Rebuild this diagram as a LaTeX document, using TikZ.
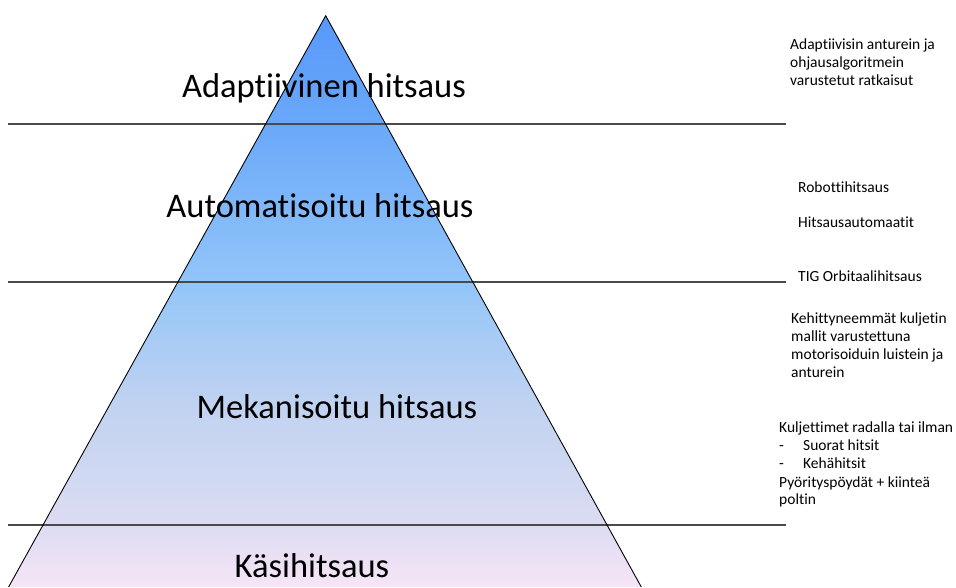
\documentclass[tikz,border=0pt]{standalone}
\usepackage{fontspec}
\setmainfont{Carlito}[Ligatures=NoCommon]
\definecolor{cTop}{HTML}{5898FA}
\definecolor{cA}{HTML}{6AA8F9}
\definecolor{cB}{HTML}{92C5F9}
\definecolor{cC}{HTML}{BFD2F1}
\definecolor{cD}{HTML}{DCDCF2}
\definecolor{cBot}{HTML}{F7E5F6}
\definecolor{lineGray}{HTML}{4A4A4A}
\pgfdeclareverticalshading{pyrshade}{100bp}{color(0bp)=(cBot); color(25bp)=(cBot); color(30.4bp)=(cD); color(41.3bp)=(cC); color(51.7bp)=(cB); color(65.5bp)=(cA); color(75bp)=(cTop); color(100bp)=(cTop)}
\tikzset{
  levelline/.style={draw=lineGray, line width=1.2pt},
  sideline/.style={draw=black, line width=0.9pt},
  bigtext/.style={inner sep=0pt, anchor=base, font=\fontsize{34.5}{38}\selectfont, text=black},
  smalltext/.style={inner sep=0pt, anchor=base west, font=\fontsize{15.5}{18}\selectfont, text=black, align=left},
}
\begin{document}
\begin{tikzpicture}[x=1pt, y=-1pt]
\useasboundingbox (0,0) rectangle (956,587);
\fill[white] (0,0) rectangle (956,587);
\coordinate (apex) at (325.7,15.7);
\coordinate (bl) at (8.6,587);
\coordinate (br) at (641.3,587);
\shade[shading=pyrshade] (apex) -- (br) -- (bl) -- cycle;
\coordinate (l1a) at (8,124); \coordinate (l1b) at (786,124);
\coordinate (l2a) at (8,282); \coordinate (l2b) at (786,282);
\coordinate (l3a) at (8,525); \coordinate (l3b) at (786,525);
\draw[levelline] (l1a) -- (l1b);
\draw[levelline] (l2a) -- (l2b);
\draw[levelline] (l3a) -- (l3b);
\draw[sideline] (bl) -- (apex) -- (br);
% big labels
\node[bigtext] (adap) at (324,97) {Adaptiivinen hitsaus};
\node[bigtext] (auto) at (320,217) {Automatisoitu hitsaus};
\node[bigtext] (meka) at (337,418) {Mekanisoitu hitsaus};
\node[bigtext] (kasi) at (312,577) {Käsihitsaus};
% right notes
\node[smalltext] (n1a) at (790,49) {Adaptiivisin anturein ja};
\node[smalltext] (n1b) at (790,67) {ohjausalgoritmein};
\node[smalltext] (n1c) at (790,85) {varustetut ratkaisut};
\node[smalltext] (n2) at (798,192) {Robottihitsaus};
\node[smalltext] (n3) at (798,227) {Hitsausautomaatit};
\node[smalltext] (n4) at (798,281) {TIG Orbitaalihitsaus};
\node[smalltext] (n5a) at (791,323) {Kehittyneemmät kuljetin};
\node[smalltext] (n5b) at (791,341) {mallit varustettuna};
\node[smalltext] (n5c) at (791,359) {motorisoiduin luistein ja};
\node[smalltext] (n5d) at (791,377) {anturein};
\node[smalltext] (n6a) at (779,432) {Kuljettimet radalla tai ilman};
\node[smalltext] (n6b) at (779,450) {-};
\node[smalltext] (n6c) at (803,450) {Suorat hitsit};
\node[smalltext] (n6d) at (779,468) {-};
\node[smalltext] (n6e) at (803,468) {Kehähitsit};
\node[smalltext] (n6f) at (779,487) {Pyörityspöydät + kiinteä};
\node[smalltext] (n6g) at (779,504) {poltin};
\end{tikzpicture}
\end{document}
